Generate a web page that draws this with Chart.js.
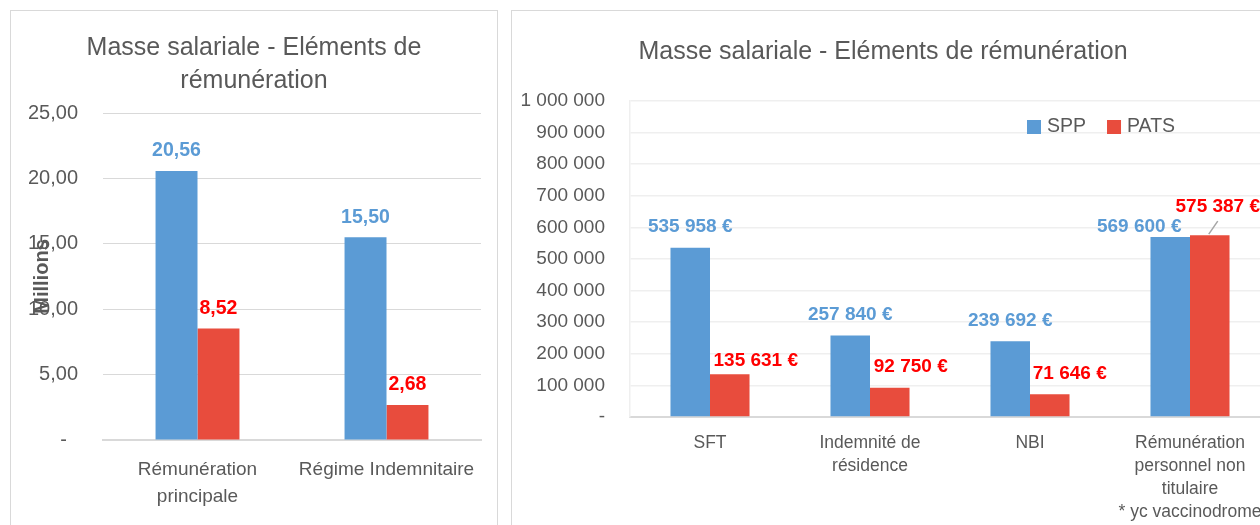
<!DOCTYPE html>
<html><head><meta charset="utf-8">
<script src="https://cdn.jsdelivr.net/npm/chart.js@4.4.0/dist/chart.umd.min.js"></script>
<style>
html,body{margin:0;padding:0;width:1260px;height:525px;overflow:hidden;background:#fff;}
.box{position:absolute;border:1px solid #d9d9d9;box-sizing:border-box;background:#fff;}
#b1{left:10px;top:10px;width:488px;height:540px;}
#b2{left:511px;top:10px;width:800px;height:540px;}
canvas{display:block;}
</style></head><body>
<div class="box" id="b1"><canvas id="c1" width="486" height="538"></canvas></div>
<div class="box" id="b2"><canvas id="c2" width="798" height="538"></canvas></div>
<script>
// ---------- data ----------
const leftTitle = ["Masse salariale - Eléments de", "rémunération"];
const leftCategories = [["Rémunération", "principale"], "Régime Indemnitaire"];
const leftSPP = [20.56, 15.50];
const leftPATS = [8.52, 2.68];
const leftTickLabels = ["-  ", "5,00", "10,00", "15,00", "20,00", "25,00"];
const leftAxisTitle = "Millions";

const rightTitle = "Masse salariale - Eléments de rémunération";
const rightCategories = [["SFT"], ["Indemnité de", "résidence"], ["NBI"], ["Rémunération", "personnel non", "titulaire", "* yc vaccinodrome"]];
const rightSPP = [535958, 257840, 239692, 569600];
const rightPATS = [135631, 92750, 71646, 575387];
const rightTickLabels = ["-", "100 000", "200 000", "300 000", "400 000", "500 000", "600 000", "700 000", "800 000", "900 000", "1 000 000"];
const seriesNames = ["SPP", "PATS"];

// ---------- styles ----------
const FONT = "'Liberation Sans', Arial, sans-serif";
const GREY = '#595959';
const BLUE = '#5B9BD5', RED = '#E84C3D';
const LBL_BLUE = '#5B9BD5', LBL_RED = '#FF0000';

const fmtLeft = v => v.toFixed(2).replace('.', ',');
const fmtRight = v => String(v).replace(/\B(?=(\d{3})+(?!\d))/g, ' ') + ' €';

const valueLabels = {
  id: 'valueLabels',
  afterDatasetsDraw(chart, args, opts) {
    const ctx = chart.ctx;
    ctx.save();
    ctx.font = opts.font;
    ctx.textAlign = 'center';
    ctx.textBaseline = 'middle';
    chart.data.datasets.forEach((ds, di) => {
      const meta = chart.getDatasetMeta(di);
      meta.data.forEach((el, i) => {
        const off = (opts.offsets && opts.offsets[di] && opts.offsets[di][i]) || {};
        const dx = off.dx || 0;
        const dy = (off.dy !== undefined) ? off.dy : opts.dy;
        if (off.leader) {
          ctx.strokeStyle = '#A6A6A6';
          ctx.lineWidth = 1.5;
          ctx.beginPath();
          ctx.moveTo(el.x + off.leader[0], el.y + off.leader[1]);
          ctx.lineTo(el.x + off.leader[2], el.y + off.leader[3]);
          ctx.stroke();
        }
        ctx.fillStyle = opts.colors[di];
        ctx.fillText(opts.format(ds.data[i]), el.x + dx, el.y - dy);
      });
    });
    ctx.restore();
  }
};

const boxLegend = {
  id: 'boxLegend',
  afterDraw(chart, args, opts) {
    if (!opts.show) return;
    const {ctx, chartArea} = chart;
    ctx.save();
    ctx.font = opts.font;
    ctx.textBaseline = 'middle';
    ctx.textAlign = 'left';
    let x = chartArea.left + opts.x;
    const y = chartArea.top + opts.y;
    chart.data.datasets.forEach(ds => {
      ctx.fillStyle = ds.backgroundColor;
      ctx.fillRect(x, y - 7, 14, 14);
      ctx.fillStyle = GREY;
      ctx.fillText(ds.label, x + 20, y);
      x += 20 + ctx.measureText(ds.label).width + opts.gap;
    });
    ctx.restore();
  }
};

Chart.register(valueLabels, boxLegend);

// ---------- left chart ----------
new Chart(document.getElementById('c1'), {
  type: 'bar',
  data: {
    labels: leftCategories,
    datasets: [
      {label: seriesNames[0], data: leftSPP, backgroundColor: BLUE, categoryPercentage: 0.444, barPercentage: 1},
      {label: seriesNames[1], data: leftPATS, backgroundColor: RED, categoryPercentage: 0.444, barPercentage: 1}
    ]
  },
  options: {
    responsive: false, animation: false, devicePixelRatio: 1,
    layout: {padding: {left: 16, right: 16, top: 0, bottom: 0}},
    plugins: {
      legend: {display: false},
      tooltip: {enabled: false},
      title: {display: true, text: leftTitle, color: GREY,
        font: {family: FONT, size: 25, weight: 'normal', lineHeight: '33px'},
        padding: {top: 20.5, bottom: 15.5}},
      valueLabels: {font: "bold 19.5px " + FONT, dy: 20, colors: [LBL_BLUE, LBL_RED], format: fmtLeft},
      boxLegend: {show: false}
    },
    scales: {
      x: {
        grid: {display: false},
        border: {display: true, color: '#D9D9D9', width: 2},
        ticks: {color: GREY, font: {family: FONT, size: 19, lineHeight: '27px'}, padding: 8.5, autoSkip: false, maxRotation: 0},
        afterFit: s => { s.height = 109; }
      },
      y: {
        min: 0, max: 25,
        ticks: {stepSize: 5, color: GREY, padding: 25, font: {family: FONT, size: 20},
          callback: (v, i) => leftTickLabels[i]},
        grid: {color: '#D9D9D9', lineWidth: 1, drawTicks: false},
        border: {display: false},
        title: {display: true, text: leftAxisTitle, color: GREY,
          font: {family: FONT, size: 20, weight: 'bold', lineHeight: '24px'}, padding: {top: 3, bottom: 0}},
        afterFit: s => { s.width = 76; }
      }
    }
  }
});

// ---------- right chart ----------
new Chart(document.getElementById('c2'), {
  type: 'bar',
  data: {
    labels: rightCategories,
    datasets: [
      {label: seriesNames[0], data: rightSPP, backgroundColor: BLUE, categoryPercentage: 0.494, barPercentage: 1},
      {label: seriesNames[1], data: rightPATS, backgroundColor: RED, categoryPercentage: 0.494, barPercentage: 1}
    ]
  },
  options: {
    responsive: false, animation: false, devicePixelRatio: 1,
    layout: {padding: {left: -16, right: 40, top: 0, bottom: 0}},
    plugins: {
      legend: {display: false},
      tooltip: {enabled: false},
      title: {display: true, text: rightTitle, color: GREY,
        font: {family: FONT, size: 25, weight: 'normal', lineHeight: '33px'},
        padding: {top: 24.5, bottom: 32.5}},
      valueLabels: {font: "bold 19px " + FONT, dy: 20.5, colors: [LBL_BLUE, LBL_RED], format: fmtRight,
        offsets: [
          [{}, {}, {}, {dx: -31, dy: 10.5}],
          [{dx: 26, dy: 13.5}, {dx: 21}, {dx: 20}, {dx: 8, dy: 28, leader: [-1, -1, 8, -14]}]
        ]},
      boxLegend: {show: true, font: "19.5px " + FONT, x: 397, y: 26, gap: 21}
    },
    scales: {
      x: {
        grid: {display: false},
        border: {display: true, color: '#D9D9D9', width: 2},
        ticks: {color: GREY, font: {family: FONT, size: 17.5, lineHeight: '23px'}, padding: 6.5, autoSkip: false, maxRotation: 0},
        afterFit: s => { s.height = 132; }
      },
      y: {
        min: 0, max: 1000000,
        ticks: {stepSize: 100000, color: GREY, padding: 25, font: {family: FONT, size: 19},
          callback: (v, i) => rightTickLabels[i]},
        grid: {color: '#EFEFEF', lineWidth: 1.5, drawTicks: false},
        border: {display: true, color: '#EFEFEF', width: 1.5},
        afterFit: s => { s.width = 134; }
      }
    }
  }
});
</script>
</body></html>
